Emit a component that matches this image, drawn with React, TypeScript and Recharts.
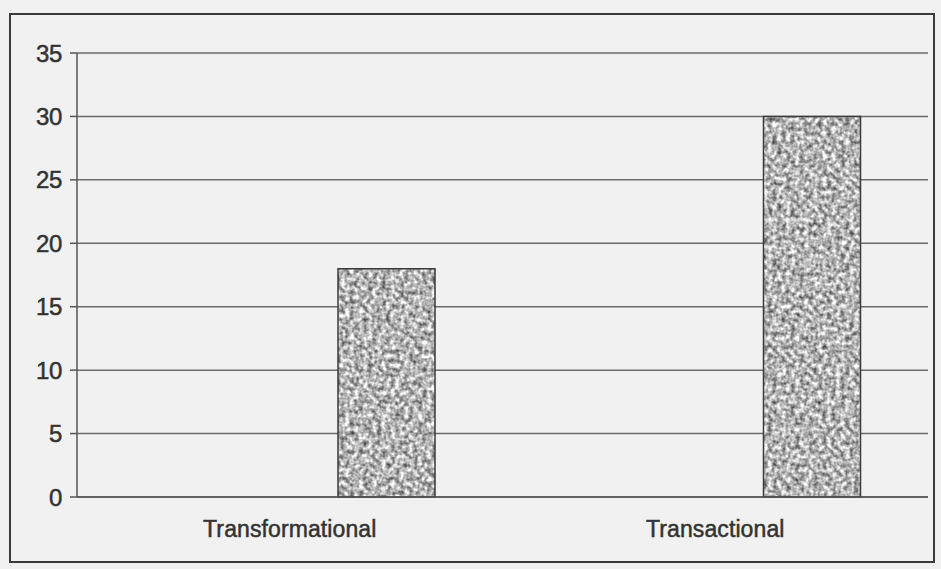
import React from "react";
import { BarChart, Bar, XAxis, YAxis, CartesianGrid } from "recharts";

const categories = ["Transformational", "Transactional"];
const blankSeriesA: (number | null)[] = [null, null];
const blankSeriesB: (number | null)[] = [null, null];
const leadershipValues = [18, 30];
const yTicks = [0, 5, 10, 15, 20, 25, 30, 35];

const data = categories.map((c, i) => ({
  category: c,
  a: blankSeriesA[i],
  b: blankSeriesB[i],
  value: leadershipValues[i],
}));

const FONT = "'Liberation Sans', Arial, Helvetica, sans-serif";

export default function App() {
  return (
    <div
      style={{
        position: "absolute",
        left: 0,
        top: 0,
        width: 941,
        height: 569,
        background: "#f1f1f1",
        overflow: "hidden",
        fontFamily: FONT,
      }}
    >
      <svg width={0} height={0} style={{ position: "absolute" }}>
        <defs>
          <filter
            id="speckleFilter"
            x="0"
            y="0"
            width="100%"
            height="100%"
            colorInterpolationFilters="sRGB"
          >
            <feTurbulence type="fractalNoise" baseFrequency="0.22" numOctaves={2} seed={3} />
            <feColorMatrix
              type="matrix"
              values="1 0 0 0 0  1 0 0 0 0  1 0 0 0 0  0 0 0 0 1"
            />
            <feComponentTransfer>
              <feFuncR type="linear" slope="1.2" intercept="0.11" />
              <feFuncG type="linear" slope="1.2" intercept="0.11" />
              <feFuncB type="linear" slope="1.2" intercept="0.11" />
            </feComponentTransfer>
          </filter>
          <pattern id="speckle" patternUnits="userSpaceOnUse" x="0" y="0" width="941" height="569">
            <rect x="0" y="0" width="941" height="569" filter="url(#speckleFilter)" />
          </pattern>
        </defs>
      </svg>
      <div
        style={{
          position: "absolute",
          left: 9,
          top: 13,
          width: 926,
          height: 550,
          border: "2px solid #3a3a3a",
          boxSizing: "border-box",
        }}
      />
      <div style={{ position: "absolute", left: 0, top: 0 }}>
        <BarChart
          width={941}
          height={569}
          data={data}
          margin={{ top: 53, right: 13, bottom: 22, left: 7 }}
          barCategoryGap={67}
          barGap={0}
        >
          <CartesianGrid horizontal={true} vertical={false} stroke="#6a6a6a" strokeWidth={1.5} />
          <XAxis
            dataKey="category"
            height={50}
            interval={0}
            tickLine={false}
            tickSize={0}
            tickMargin={24}
            axisLine={{ stroke: "#555", strokeWidth: 1.5 }}
            tick={{ fontSize: 23, fill: "#333", stroke: "#333", strokeWidth: 0.5, fontFamily: FONT, letterSpacing: 0.1 }}
          />
          <YAxis
            width={70}
            domain={[0, 35]}
            ticks={yTicks}
            interval={0}
            tickSize={7}
            tickMargin={8}
            axisLine={{ stroke: "#555", strokeWidth: 1.5 }}
            tickLine={{ stroke: "#555", strokeWidth: 1.5 }}
            tick={{ fontSize: 24, fill: "#333", stroke: "#333", strokeWidth: 0.5, fontFamily: FONT, letterSpacing: -0.3 }}
          />
          <YAxis
            yAxisId="right"
            orientation="right"
            width={0}
            domain={[0, 35]}
            tick={false}
            tickLine={false}
            axisLine={{ stroke: "#555", strokeWidth: 1.5 }}
          />
          <Bar dataKey="a" fill="url(#speckle)" stroke="#3a3a3a" strokeWidth={1.5} isAnimationActive={false} />
          <Bar dataKey="b" fill="url(#speckle)" stroke="#3a3a3a" strokeWidth={1.5} isAnimationActive={false} />
          <Bar dataKey="value" fill="url(#speckle)" stroke="#3a3a3a" strokeWidth={1.5} isAnimationActive={false} />
        </BarChart>
      </div>
    </div>
  );
}
